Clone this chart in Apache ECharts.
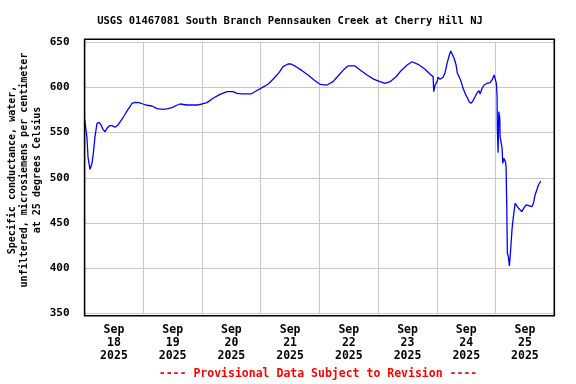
<!DOCTYPE html>
<html>
<head>
<meta charset="utf-8">
<script src="https://cdn.jsdelivr.net/npm/echarts@6/dist/echarts.min.js"></script>
<style>
html,body{margin:0;padding:0;background:#fff;}
#chart{width:576px;height:384px;}
</style>
</head>
<body>
<div id="chart"></div>
<script>
// Hours since 2025-09-18 00:00
var hours = [0,0.41,0.98,1.39,2.21,3.03,3.64,4.25,5.07,5.89,6.71,7.52,8.34,9.16,10.18,11.2,12.43,13.66,14.88,16.11,17.34,18.56,19.38,20.61,22.24,23.88,25.52,27.56,29.6,32.06,34.1,35.7,37.7,39.0,41.86,46.36,48.0,50.04,52.5,55.36,58.22,60.67,62.31,64.35,68.03,70.08,72.53,74.98,77.43,79.48,81.11,83.16,84.39,86.43,88.88,91.34,93.79,96.24,99.1,101.55,103.6,106.05,107.69,110.55,112.6,115.46,118.33,120.78,122.82,124.87,127.32,129.37,131.82,133.87,136.32,139.18,141.23,142.45,142.74,143.26,144.08,144.49,145.31,146.54,147.35,148.17,148.99,149.68,150.22,151.03,151.85,152.38,153.08,153.9,154.71,155.53,156.35,157.17,157.99,158.8,159.62,160.44,161.26,161.67,162.49,163.31,164.53,165.76,166.58,167.4,168.08,168.33,168.61,168.73,169.02,169.31,169.72,169.84,170.25,170.66,170.94,171.35,172.01,172.29,172.58,172.82,173.23,173.64,173.93,174.34,174.75,175.28,175.98,176.51,177.49,178.72,179.66,180.48,181.82,182.81,183.46,184.15,184.85,185.5,186.48];
var conductance = [564.8,556.6,543.7,523,509.4,516,529,545.5,560.3,561.4,558.5,553.7,551,554.8,557.7,557.7,556,558.5,563.2,568.4,574,578.7,582.5,583.6,583.3,581.7,580.3,579.5,576.5,575.8,576.5,577.6,580.3,581.7,580.6,580.6,581.7,583.2,588,592.4,595.3,595.3,593.5,592.8,592.8,596.1,599.8,603.5,610.2,616.4,623,626,626,623,618.6,613.8,608.3,603.5,602.7,606.4,612.7,620.1,623.8,623.8,619.3,613.8,609,606.4,604.6,606.4,611.9,618.6,624.9,628.5,625.6,620.1,614.6,612,595.3,602.7,606.4,611.3,609,611.3,616.4,626.7,634.8,640.4,638.5,632.3,624.9,615.7,612,606.4,599.1,593.5,589.1,584.3,582.5,585.4,589.8,594.2,596.4,592.8,599.1,602.7,604.6,605.3,608.3,613.8,614.9,604.6,589.8,552.8,527.8,573.2,566,545.5,545,532.7,516,521.6,518,512.3,466,416.5,412.7,402.4,412,427.5,444,457,471.8,473.6,466,462.6,467,469.9,469,468,471.8,481,486.5,492,496.5];
var dayLabelHours = [12,36,60,84,108,132,156,180];
var dayLabels = ['Sep\n18\n2025','Sep\n19\n2025','Sep\n20\n2025','Sep\n21\n2025','Sep\n22\n2025','Sep\n23\n2025','Sep\n24\n2025','Sep\n25\n2025'];
var yTicks = [350,400,450,500,550,600,650];

var FONT = '"DejaVu Sans Mono", "Liberation Mono", monospace';
var chart = echarts.init(document.getElementById('chart'), null, {renderer:'canvas'});
var pts = hours.map(function(h,i){return [h, conductance[i]];});
chart.setOption({
  animation:false,
  backgroundColor:'#ffffff',
  title:{
    text:'USGS 01467081 South Branch Pennsauken Creek at Cherry Hill NJ',
    left:285, top:11, textAlign:'center',
    textStyle:{fontFamily:FONT, fontWeight:'bold', fontSize:10.5, color:'#000'}
  },
  grid:{left:84.6, right:21.7, top:42.3, bottom:70.7, containLabel:false},
  xAxis:{
    type:'value', min:0, max:192, interval:24,
    axisLine:{show:false}, axisTick:{show:false},
    splitLine:{show:true, lineStyle:{color:'#c8c8c8', width:1}},
    axisLabel:{
      customValues: dayLabelHours,
      formatter:function(v){ var i = dayLabelHours.indexOf(v); return i>=0 ? dayLabels[i] : ''; },
      fontFamily:FONT, fontWeight:'bold', fontSize:11.5, color:'#000', lineHeight:13, margin:10
    }
  },
  yAxis:{
    type:'value', min:350, max:650, interval:50,
    axisLine:{show:false}, axisTick:{show:false},
    splitLine:{show:true, lineStyle:{color:'#c8c8c8', width:1}},
    axisLabel:{fontFamily:FONT, fontWeight:'bold', fontSize:11, color:'#000', margin:15}
  },
  series:[{
    type:'line', data:pts, showSymbol:false, symbol:'none',
    lineStyle:{color:'#0000ff', width:1.3}, clip:true
  }],
  graphic:[
    {type:'rect', shape:{x:84.6, y:39.3, width:469.7, height:276.4}, style:{fill:'none', stroke:'#000', lineWidth:1.6}, z:100},
    {type:'text', x:24.5, y:170, rotation:Math.PI/2,
      style:{text:'Specific conductance, water,\nunfiltered, microsiemens per centimeter\nat 25 degrees Celsius',
        font:'bold 10px ' + FONT, fill:'#000', align:'center', verticalAlign:'middle', lineHeight:12.5}},
    {type:'text', x:318, y:374,
      style:{text:'---- Provisional Data Subject to Revision ----', font:'bold 11.5px ' + FONT, fill:'#ff0000', align:'center', verticalAlign:'middle'}}
  ]
});
</script>
</body>
</html>
